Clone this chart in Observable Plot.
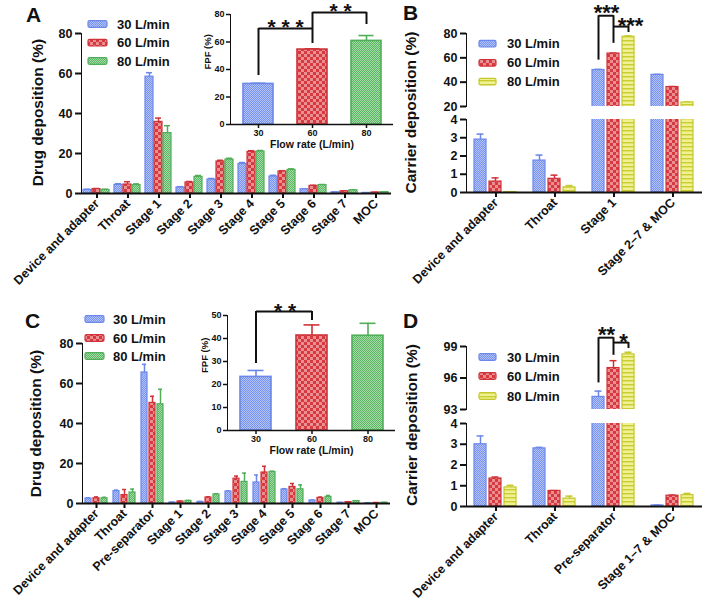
<!DOCTYPE html>
<html><head><meta charset="utf-8">
<script src="https://cdn.jsdelivr.net/npm/d3@7"></script>
<script src="https://cdn.jsdelivr.net/npm/@observablehq/plot@0.6"></script>
<style>
html,body{margin:0;padding:0;background:#fff;}
#root{position:relative;width:705px;height:607px;overflow:hidden;font-family:"Liberation Sans",Arial,sans-serif;}
.slot{position:absolute;}
.slot svg{overflow:visible;display:block;}
.slot text{font-family:"Liberation Sans",Arial,sans-serif;font-weight:bold;fill:#111;}
.main [aria-label^="y-axis"] text{font-size:12.5px;}
.main [aria-label^="fx-axis"] text{font-size:12.5px;}
.main [aria-label^="y-axis"] path,.main [aria-label^="y-axis"] line,.main [aria-label^="fx-axis"] path,.main [aria-label^="fx-axis"] line{stroke-width:2px;stroke:#111;}
.inset [aria-label^="x-axis"] text,.inset [aria-label^="y-axis"] text{font-size:9px;}
.inset [aria-label^="y-axis"] path,.inset [aria-label^="y-axis"] line,.inset [aria-label^="x-axis"] path,.inset [aria-label^="x-axis"] line{stroke-width:1.5px;stroke:#111;}
#overlay{position:absolute;left:0;top:0;pointer-events:none;}
#overlay text{font-family:"Liberation Sans",Arial,sans-serif;font-weight:bold;fill:#111;}
</style></head><body><div id="root"></div>
<script>
// ---------- data ----------
const seriesKeys = [30, 60, 80];
const seriesLabels = ["30 L/min", "60 L/min", "80 L/min"];

// Panel A: drug deposition (NGI stages)
const catsA = ["Device and adapter","Throat","Stage 1","Stage 2","Stage 3","Stage 4","Stage 5","Stage 6","Stage 7","MOC"];
const drugA30 = [1.8, 4.3, 58.4, 3.0, 7.0, 14.8, 8.5, 2.1, 0.6, 0.3];
const drugA60 = [2.2, 4.5, 35.8, 5.5, 16.0, 20.8, 11.0, 3.8, 1.1, 0.5];
const drugA80 = [1.8, 4.2, 30.2, 8.3, 17.0, 21.0, 11.8, 4.2, 1.6, 0.7];
const drugA30err = [0.3, 0.6, 2.0, 0.4, 0.5, 0.7, 0.6, 0.2, 0.1, 0.05];
const drugA60err = [0.3, 1.4, 1.9, 0.5, 0.6, 0.6, 0.4, 0.3, 0.2, 0.1];
const drugA80err = [0.3, 0.6, 3.7, 0.7, 0.6, 0.5, 0.5, 0.3, 0.2, 0.1];
const fpfA = [29.5, 54.5, 60.8];
const fpfAerr = [0.5, 0.5, 3.9];
const sigALinks = [{a: 30, b: 60, y: 69.8}, {a: 60, b: 80, y: 81.5}];
const sigALegs = [{at: 30, top: 69.8, bottom: 35.6}, {at: 60, top: 81.5, bottom: 58.9}, {at: 80, top: 81.5, bottom: 72.7}];
const sigAStars = [{at: 30, y: 74.5, label: "* * *", dx: 27}, {at: 60, y: 86.5, label: "* *", dx: 28}];

// Panel B: carrier deposition
const catsB = ["Device and adapter","Throat","Stage 1","Stage 2\u20137 & MOC"];
const carB30 = [2.9, 1.75, 50.0, 46.0];
const carB60 = [0.6, 0.75, 63.5, 36.0];
const carB80 = [0.02, 0.28, 77.3, 23.3];
const carB30err = [0.3, 0.3, 0.5, 0.4];
const carB60err = [0.2, 0.2, 0.4, 0.4];
const carB80err = [0.01, 0.1, 0.7, 0.4];
const sigBLinks = [{cat: "Stage 1", a: 30, b: 60, y: 94.6}, {cat: "Stage 1", a: 60, b: 80, y: 85.7}];
const sigBLegs = [{cat: "Stage 1", at: 30, top: 94.6, bottom: 58.1}, {cat: "Stage 1", at: 60, top: 94.6, bottom: 71.9}, {cat: "Stage 1", at: 80, top: 85.7, bottom: 80.8}];
const sigBStars = [{cat: "Stage 1", at: 30, y: 101.5, label: "***", dx: 8}, {cat: "Stage 1", at: 80, y: 90.5, label: "***", dx: 2}];

// Panel C: drug deposition (with pre-separator)
const catsC = ["Device and adapter","Throat","Pre-separator","Stage 1","Stage 2","Stage 3","Stage 4","Stage 5","Stage 6","Stage 7","MOC"];
const drugC30 = [2.5, 6.2, 65.5, 0.5, 0.8, 6.0, 10.5, 7.0, 1.5, 0.4, 0.2];
const drugC60 = [2.6, 4.2, 50.3, 1.0, 3.0, 12.4, 15.5, 8.3, 2.8, 0.7, 0.3];
const drugC80 = [2.6, 5.5, 49.6, 1.3, 4.5, 10.8, 15.8, 7.1, 3.3, 1.2, 0.4];
const drugC30err = [0.3, 0.5, 4.1, 0.1, 0.2, 0.3, 3.7, 0.4, 0.2, 0.1, 0.05];
const drugC60err = [0.7, 2.8, 3.3, 0.2, 0.3, 1.3, 3.1, 1.7, 0.4, 0.2, 0.1];
const drugC80err = [0.5, 1.7, 7.5, 0.2, 0.4, 4.4, 0.3, 2.2, 0.7, 0.2, 0.1];
const fpfC = [23.3, 41.3, 41.2];
const fpfCerr = [2.8, 4.6, 5.4];
const sigCLinks = [{a: 30, b: 60, y: 51.7}];
const sigCLegs = [{at: 30, top: 51.7, bottom: 29.1}, {at: 60, top: 51.7, bottom: 47.8}];
const sigCStars = [{at: 30, y: 54.3, label: "* *", dx: 29}];

// Panel D: carrier deposition (with pre-separator)
const catsD = ["Device and adapter","Throat","Pre-separator","Stage 1\u20137 & MOC"];
const carD30 = [3.0, 2.8, 94.2, 0.05];
const carD60 = [1.35, 0.75, 96.95, 0.52];
const carD80 = [0.92, 0.38, 98.25, 0.55];
const carD30err = [0.4, 0.05, 0.55, 0.02];
const carD60err = [0.07, 0.02, 0.7, 0.03];
const carD80err = [0.1, 0.12, 0.2, 0.08];
const sigDLinks = [{cat: "Pre-separator", a: 30, b: 60, y: 99.84}, {cat: "Pre-separator", a: 60, b: 80, y: 99.375}];
const sigDLegs = [{cat: "Pre-separator", at: 30, top: 99.84, bottom: 95.53}, {cat: "Pre-separator", at: 60, top: 99.84, bottom: 98.16}, {cat: "Pre-separator", at: 80, top: 99.375, bottom: 98.81}];
const sigDStars = [{cat: "Pre-separator", at: 30, y: 100.6, label: "**", dx: 8}, {cat: "Pre-separator", at: 60, y: 100.0, label: "*", dx: 10}];

// ---------- styles ----------
const STY = {
  blue: {fill: "url(#pBlue)", stroke: "#6b87ea"},
  red: {fill: "url(#pRed)", stroke: "#cf3239"},
  green: {fill: "url(#pGreen)", stroke: "#50ae58"},
  yellow: {fill: "url(#pYellow)", stroke: "#c4c82a"}
};
const stylesAC = [STY.blue, STY.red, STY.green];
const stylesBD = [STY.blue, STY.red, STY.yellow];
const INK = "#111";

function toRows(cats, vals, errs) {
  return cats.flatMap((c, i) => seriesKeys.map((k, j) => ({cat: c, flow: k, v: vals[j][i], e: errs[j][i]})));
}

function seriesMarks(data, styles, {clip = false, capInset = 1, sw = 1.2, ew = 1.5, facet = true}) {
  return seriesKeys.flatMap((k, j) => {
    const d = data.filter(r => r.flow === k);
    const s = styles[j];
    const f = facet ? {fx: "cat"} : {};
    return [
      Plot.ruleX(d, {...f, x: "flow", y1: "v", y2: r => r.v + r.e, stroke: s.stroke, strokeWidth: ew, clip}),
      Plot.tickY(d, {...f, x: "flow", y: r => r.v + r.e, stroke: s.stroke, strokeWidth: ew, insetLeft: capInset, insetRight: capInset, clip}),
      Plot.barY(d, {...f, x: "flow", y1: 0, y2: "v", fill: s.fill, stroke: s.stroke, strokeWidth: sw, clip})
    ];
  });
}

function sigMarks(links, legs, stars, fs, facet) {
  const f = facet ? {fx: "cat"} : {};
  return [
    Plot.link(links, {...f, x1: "a", x2: "b", y1: "y", y2: "y", stroke: INK, strokeWidth: 2}),
    Plot.ruleX(legs, {...f, x: "at", y1: "top", y2: "bottom", stroke: INK, strokeWidth: 2}),
    ...stars.map(s => Plot.text([s], {...f, x: "at", y: "y", text: "label", dx: s.dx, dy: fs * 0.57, lineAnchor: "bottom", fontSize: fs, fontWeight: "bold", fill: INK}))
  ];
}

function mainPlot(o) {
  return Plot.plot({
    width: o.width, height: o.height,
    marginLeft: o.mL, marginRight: o.mR, marginTop: o.mT, marginBottom: o.mB,
    style: {background: "transparent", overflow: "visible", color: INK},
    fx: {domain: o.cats, padding: 0, label: null, axis: o.axisX ? "bottom" : null, tickRotate: -45, tickSize: 5, tickPadding: 3},
    x: {type: "band", domain: seriesKeys, axis: null, paddingInner: o.pIn, paddingOuter: o.pOut},
    y: {domain: o.yDomain, ticks: o.yTicks, tickFormat: d => String(d), line: true, label: null, tickSize: 6, tickPadding: 3},
    marks: [
      ...seriesMarks(o.data, o.styles, {clip: o.clip, capInset: o.capInset}),
      o.axisX ? Plot.ruleY([o.yDomain[0]], {stroke: INK, strokeWidth: 2}) : null,
      ...(o.extra || [])
    ]
  });
}

function insetPlot(o) {
  const data = seriesKeys.map((k, i) => ({flow: k, v: o.vals[i], e: o.errs[i]}));
  return Plot.plot({
    width: o.width, height: o.height,
    marginLeft: o.mL, marginRight: o.mR, marginTop: o.mT, marginBottom: o.mB,
    style: {background: "transparent", overflow: "visible", color: INK},
    x: {type: "band", domain: seriesKeys, paddingInner: 0.45, paddingOuter: 0.21, label: null, tickSize: 4, tickPadding: 1},
    y: {domain: o.yDomain, ticks: o.yTicks, tickFormat: d => String(d), line: true, label: null, tickSize: 4, tickPadding: 2},
    marks: [
      ...seriesMarks(data, o.styles, {capInset: 7.5, sw: 1.6, ew: 1.6, facet: false}),
      Plot.ruleY([0], {stroke: INK, strokeWidth: 1.5}),
      Plot.text(["Flow rate (L/min)"], {text: d => d, frameAnchor: "bottom", dy: 23, fontSize: 10.5, fontWeight: "bold", fill: INK}),
      Plot.text(["FPF (%)"], {text: d => d, frameAnchor: "left", rotate: -90, dx: -23, fontSize: 9.5, fontWeight: "bold", fill: INK}),
      ...sigMarks(o.links, o.legs, o.stars, 21, false)
    ]
  });
}

// ---------- layout ----------
const root = document.getElementById("root");
function place(node, left, top, cls) {
  const div = document.createElement("div");
  div.className = "slot " + cls;
  div.style.left = left + "px";
  div.style.top = top + "px";
  div.appendChild(node);
  root.appendChild(div);
}

const rowsA = toRows(catsA, [drugA30, drugA60, drugA80], [drugA30err, drugA60err, drugA80err]);
const rowsB = toRows(catsB, [carB30, carB60, carB80], [carB30err, carB60err, carB80err]);
const rowsC = toRows(catsC, [drugC30, drugC60, drugC80], [drugC30err, drugC60err, drugC80err]);
const rowsD = toRows(catsD, [carD30, carD60, carD80], [carD30err, carD60err, carD80err]);

// Panel A
place(mainPlot({data: rowsA, cats: catsA, styles: stylesAC, width: 400, height: 300, mL: 78, mR: 6, mT: 33, mB: 107,
  yDomain: [0, 80], yTicks: [0, 20, 40, 60, 80], pIn: 0.11, pOut: 0.26, axisX: true, capInset: 1}), 0, 0, "main");
place(insetPlot({vals: fpfA, errs: fpfAerr, styles: stylesAC, width: 210, height: 160, mL: 40, mR: 7, mT: 14, mB: 36,
  yDomain: [0, 80], yTicks: [0, 20, 40, 60, 80], links: sigALinks, legs: sigALegs, stars: sigAStars}), 190, 0, "inset");

// Panel B (broken axis)
place(mainPlot({data: rowsB, cats: catsB, styles: stylesBD, width: 345, height: 110, mL: 106, mR: 3, mT: 33, mB: 4,
  yDomain: [20, 80], yTicks: [20, 40, 60, 80], pIn: 0.19, pOut: 0.46, axisX: false, clip: true, capInset: 2.5,
  extra: sigMarks(sigBLinks, sigBLegs, sigBStars, 22, true)}), 360, 0, "main");
place(mainPlot({data: rowsB, cats: catsB, styles: stylesBD, width: 345, height: 190, mL: 106, mR: 3, mT: 9, mB: 108,
  yDomain: [0, 4], yTicks: [0, 1, 2, 3, 4], pIn: 0.19, pOut: 0.46, axisX: true, clip: true, capInset: 2.5}), 360, 110, "main");

// Panel C
place(mainPlot({data: rowsC, cats: catsC, styles: stylesAC, width: 400, height: 307, mL: 78, mR: 6, mT: 43, mB: 104,
  yDomain: [0, 80], yTicks: [0, 20, 40, 60, 80], pIn: 0.19, pOut: 0.3, axisX: true, capInset: 1}), 0, 300, "main");
place(insetPlot({vals: fpfC, errs: fpfCerr, styles: stylesAC, width: 210, height: 160, mL: 40, mR: 2, mT: 15, mB: 30,
  yDomain: [0, 50], yTicks: [0, 10, 20, 30, 40, 50], links: sigCLinks, legs: sigCLegs, stars: sigCStars}), 187, 300, "inset");

// Panel D (broken axis)
place(mainPlot({data: rowsD, cats: catsD, styles: stylesBD, width: 345, height: 113, mL: 106, mR: 3, mT: 46, mB: 4,
  yDomain: [93, 99], yTicks: [93, 96, 99], pIn: 0.19, pOut: 0.46, axisX: false, clip: true, capInset: 2.5,
  extra: sigMarks(sigDLinks, sigDLegs, sigDStars, 22, true)}), 360, 300, "main");
place(mainPlot({data: rowsD, cats: catsD, styles: stylesBD, width: 345, height: 194, mL: 106, mR: 3, mT: 10, mB: 101,
  yDomain: [0, 4], yTicks: [0, 1, 2, 3, 4], pIn: 0.19, pOut: 0.46, axisX: true, clip: true, capInset: 2.5}), 360, 413, "main");

// ---------- overlay: pattern defs, panel letters, axis titles, legends ----------
const legendDefs = [
  {swX: 88, swW: 19, txtX: 117, rows: [24, 42.7, 61], styles: stylesAC},
  {swX: 479, swW: 17, txtX: 507, rows: [43.7, 62.8, 81.7], styles: stylesBD},
  {swX: 85, swW: 19, txtX: 113, rows: [319, 338, 356], styles: stylesAC},
  {swX: 479, swW: 17, txtX: 507, rows: [357, 376, 396], styles: stylesBD}
];
const panelLetters = [{t: "A", x: 26, y: 22}, {t: "B", x: 403, y: 20}, {t: "C", x: 25, y: 328}, {t: "D", x: 403, y: 328}];
const yTitles = [
  {t: "Drug deposition (%)", x: 43, y: 112.5},
  {t: "Carrier deposition (%)", x: 416, y: 112.5},
  {t: "Drug deposition (%)", x: 41, y: 423.5},
  {t: "Carrier deposition (%)", x: 417, y: 425}
];

let ov = `<svg id="overlay" width="705" height="607" xmlns="http://www.w3.org/2000/svg">
<defs>
<pattern id="pBlue" patternUnits="userSpaceOnUse" width="2" height="2"><rect width="2" height="2" fill="#7893ef"/><rect width="1" height="1" fill="#b4c4f8"/><rect x="1" y="1" width="1" height="1" fill="#b4c4f8"/></pattern>
<pattern id="pRed" patternUnits="userSpaceOnUse" width="6" height="6"><rect width="6" height="6" fill="#d6393f"/><rect width="3" height="3" fill="#ea8f92"/><rect x="3" y="3" width="3" height="3" fill="#ea8f92"/></pattern>
<pattern id="pGreen" patternUnits="userSpaceOnUse" width="2" height="2"><rect width="2" height="2" fill="#5ab662"/><rect width="1" height="1" fill="#a6dba9"/><rect x="1" y="1" width="1" height="1" fill="#a6dba9"/></pattern>
<pattern id="pYellow" patternUnits="userSpaceOnUse" width="4" height="4"><rect width="4" height="4" fill="#f0f193"/><rect width="4" height="1.4" fill="#c9cd2e"/></pattern>
</defs>`;
for (const p of panelLetters) ov += `<text x="${p.x}" y="${p.y}" font-size="21">${p.t}</text>`;
for (const t of yTitles) ov += `<text transform="translate(${t.x},${t.y}) rotate(-90)" text-anchor="middle" font-size="15.5">${t.t}</text>`;
for (const L of legendDefs) {
  L.rows.forEach((cy, i) => {
    const s = L.styles[i];
    ov += `<rect x="${L.swX}" y="${cy - 3.3}" width="${L.swW}" height="6.6" rx="1.5" fill="${s.fill}" stroke="${s.stroke}" stroke-width="1.2"/>`;
    ov += `<text x="${L.txtX}" y="${cy + 4.6}" font-size="13">${seriesLabels[i]}</text>`;
  });
}
ov += `</svg>`;
root.insertAdjacentHTML("beforeend", ov);
</script>
</body></html>
